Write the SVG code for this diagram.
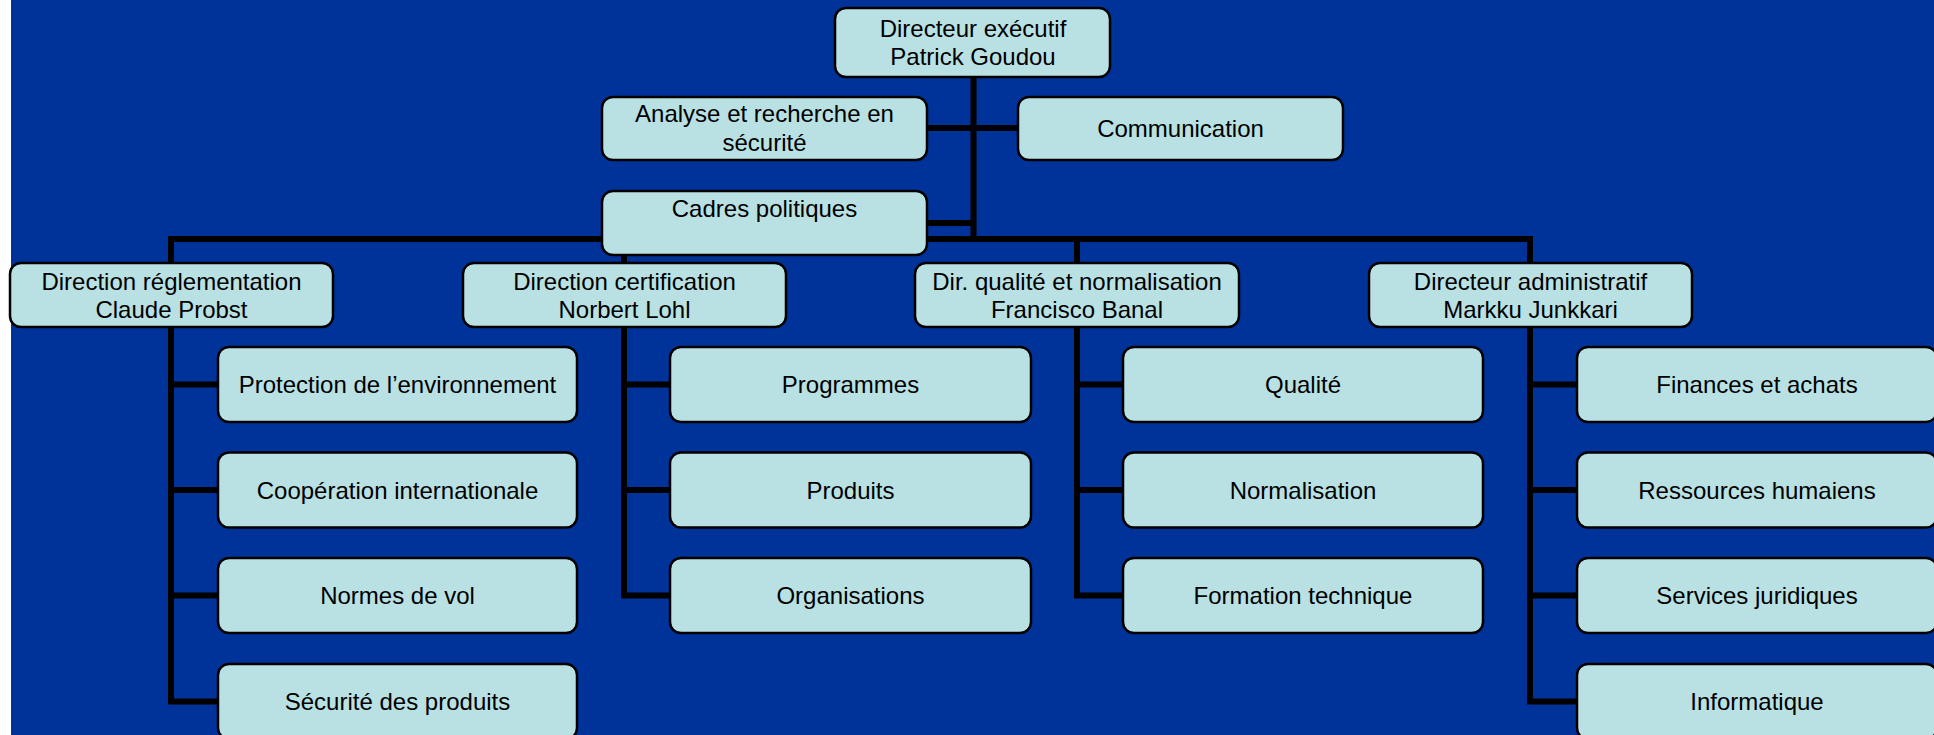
<svg xmlns="http://www.w3.org/2000/svg" width="1934" height="735" viewBox="0 0 1934 735">
<style>
.box{fill:#B9E0E3;stroke:#000;stroke-width:2.5}
.t{font-family:"Liberation Sans",Arial,sans-serif;font-size:24px;fill:#000;text-anchor:middle}
.c{fill:none;stroke:#000;stroke-width:6;stroke-linejoin:miter}
</style>
<rect x="0" y="0" width="1934" height="735" fill="#fff"/>
<rect x="11" y="0" width="1923" height="735" fill="#003399"/>
<g id="connectors">
<line class="c" x1="973.5" y1="77" x2="973.5" y2="242"/>
<line class="c" x1="927" y1="128" x2="1018" y2="128"/>
<line class="c" x1="927" y1="223" x2="973.5" y2="223"/>
<line class="c" x1="168" y1="239" x2="1533" y2="239"/>
<polyline class="c" points="171,236 171,701.5 218,701.5"/>
<line class="c" x1="171" y1="384.5" x2="218" y2="384.5"/>
<line class="c" x1="171" y1="490" x2="218" y2="490"/>
<line class="c" x1="171" y1="595.5" x2="218" y2="595.5"/>
<polyline class="c" points="624,236 624,595.5 670,595.5"/>
<line class="c" x1="624" y1="384.5" x2="670" y2="384.5"/>
<line class="c" x1="624" y1="490" x2="670" y2="490"/>
<polyline class="c" points="1077,236 1077,595.5 1123,595.5"/>
<line class="c" x1="1077" y1="384.5" x2="1123" y2="384.5"/>
<line class="c" x1="1077" y1="490" x2="1123" y2="490"/>
<polyline class="c" points="1530,236 1530,701.5 1577,701.5"/>
<line class="c" x1="1530" y1="384.5" x2="1577" y2="384.5"/>
<line class="c" x1="1530" y1="490" x2="1577" y2="490"/>
<line class="c" x1="1530" y1="595.5" x2="1577" y2="595.5"/>
</g>
<g id="n-directeur"><rect class="box" x="835" y="8" width="275" height="69" rx="11"/><text class="t" x="973" y="37">Directeur exécutif</text><text class="t" x="973" y="65">Patrick Goudou</text></g>
<g id="n-analyse"><rect class="box" x="602" y="97" width="325" height="63" rx="11"/><text class="t" x="764.5" y="122">Analyse et recherche en</text><text class="t" x="764.5" y="151">sécurité</text></g>
<g id="n-communication"><rect class="box" x="1018" y="97" width="325" height="63" rx="11"/><text class="t" x="1180.5" y="137">Communication</text></g>
<g id="n-cadres"><rect class="box" x="602" y="191" width="325" height="64" rx="11"/><text class="t" x="764.5" y="217">Cadres politiques</text></g>
<g id="n-reglementation"><rect class="box" x="10" y="263" width="323" height="64" rx="11"/><text class="t" x="171.5" y="290">Direction réglementation</text><text class="t" x="171.5" y="318">Claude Probst</text></g>
<g id="n-certification"><rect class="box" x="463" y="263" width="323" height="64" rx="11"/><text class="t" x="624.5" y="290">Direction certification</text><text class="t" x="624.5" y="318">Norbert Lohl</text></g>
<g id="n-qualite-dir"><rect class="box" x="915" y="263" width="324" height="64" rx="11"/><text class="t" x="1077" y="290">Dir. qualité et normalisation</text><text class="t" x="1077" y="318">Francisco Banal</text></g>
<g id="n-admin"><rect class="box" x="1369" y="263" width="323" height="64" rx="11"/><text class="t" x="1530.5" y="290">Directeur administratif</text><text class="t" x="1530.5" y="318">Markku Junkkari</text></g>
<g id="n-protection"><rect class="box" x="218" y="347" width="359" height="75" rx="11"/><text class="t" x="397.5" y="393">Protection de l’environnement</text></g>
<g id="n-cooperation"><rect class="box" x="218" y="452.5" width="359" height="75" rx="11"/><text class="t" x="397.5" y="498.5">Coopération internationale</text></g>
<g id="n-normes"><rect class="box" x="218" y="558" width="359" height="75" rx="11"/><text class="t" x="397.5" y="604">Normes de vol</text></g>
<g id="n-securite"><rect class="box" x="218" y="664" width="359" height="75" rx="11"/><text class="t" x="397.5" y="710">Sécurité des produits</text></g>
<g id="n-programmes"><rect class="box" x="670" y="347" width="361" height="75" rx="11"/><text class="t" x="850.5" y="393">Programmes</text></g>
<g id="n-produits"><rect class="box" x="670" y="452.5" width="361" height="75" rx="11"/><text class="t" x="850.5" y="498.5">Produits</text></g>
<g id="n-organisations"><rect class="box" x="670" y="558" width="361" height="75" rx="11"/><text class="t" x="850.5" y="604">Organisations</text></g>
<g id="n-qualite"><rect class="box" x="1123" y="347" width="360" height="75" rx="11"/><text class="t" x="1303" y="393">Qualité</text></g>
<g id="n-normalisation"><rect class="box" x="1123" y="452.5" width="360" height="75" rx="11"/><text class="t" x="1303" y="498.5">Normalisation</text></g>
<g id="n-formation"><rect class="box" x="1123" y="558" width="360" height="75" rx="11"/><text class="t" x="1303" y="604">Formation technique</text></g>
<g id="n-finances"><rect class="box" x="1577" y="347" width="360" height="75" rx="11"/><text class="t" x="1757" y="393">Finances et achats</text></g>
<g id="n-rh"><rect class="box" x="1577" y="452.5" width="360" height="75" rx="11"/><text class="t" x="1757" y="498.5">Ressources humaiens</text></g>
<g id="n-juridiques"><rect class="box" x="1577" y="558" width="360" height="75" rx="11"/><text class="t" x="1757" y="604">Services juridiques</text></g>
<g id="n-informatique"><rect class="box" x="1577" y="664" width="360" height="75" rx="11"/><text class="t" x="1757" y="710">Informatique</text></g>
</svg>
